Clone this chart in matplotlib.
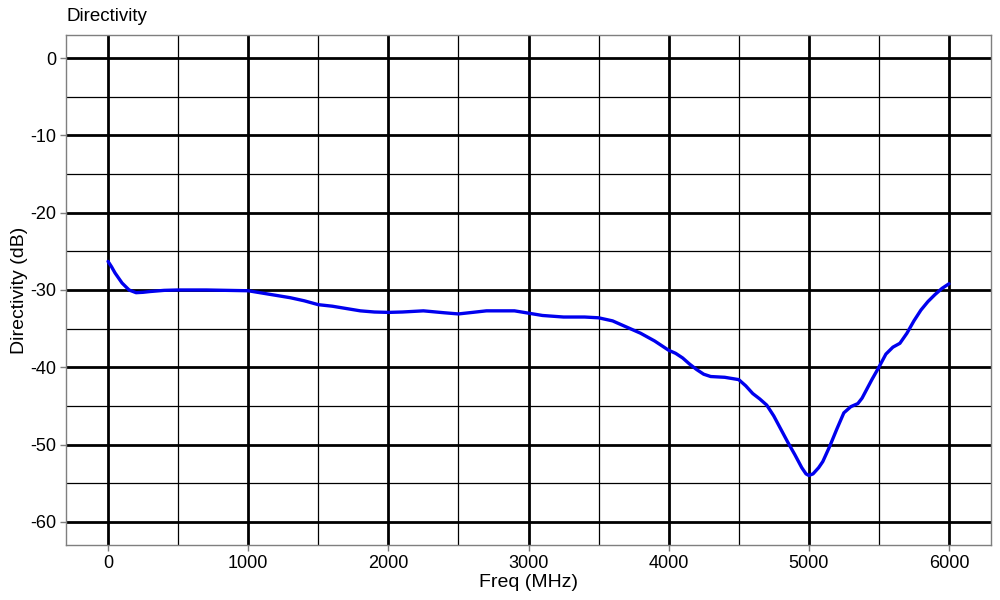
import matplotlib
matplotlib.use("Agg")
import matplotlib.pyplot as plt
from matplotlib.ticker import MultipleLocator

freq_mhz = [0, 25, 50, 100, 150, 200, 250, 300, 400, 500, 700, 1000, 1100,
            1200, 1300, 1400, 1500, 1600, 1700, 1800, 1900, 2000, 2100, 2250,
            2400, 2500, 2600, 2700, 2900, 3000, 3100, 3250, 3400, 3500, 3600,
            3700, 3800, 3900, 4000, 4050, 4100, 4150, 4200, 4250, 4300, 4400,
            4500, 4550, 4600, 4650, 4700, 4750, 4800, 4850, 4900, 4950, 4980,
            5000, 5030, 5070, 5100, 5150, 5200, 5250, 5300, 5350, 5380, 5450,
            5500, 5550, 5600, 5650, 5700, 5750, 5800, 5850, 5900, 5950, 6000]
directivity_db = [-26.3, -27.0, -27.8, -29.1, -30.0, -30.35, -30.3, -30.2,
                  -30.05, -30.0, -30.0, -30.1, -30.4, -30.7, -31.0, -31.4,
                  -31.9, -32.1, -32.4, -32.7, -32.85, -32.9, -32.85, -32.7,
                  -32.95, -33.1, -32.9, -32.7, -32.7, -33.0, -33.3, -33.5,
                  -33.5, -33.6, -34.0, -34.8, -35.6, -36.6, -37.8, -38.2,
                  -38.8, -39.6, -40.3, -40.9, -41.2, -41.3, -41.6, -42.4,
                  -43.4, -44.1, -44.9, -46.3, -48.0, -49.7, -51.3, -53.0,
                  -53.8, -54.0, -53.8, -53.0, -52.2, -50.2, -48.0, -45.9,
                  -45.1, -44.7, -44.0, -41.6, -40.0, -38.3, -37.4, -36.9,
                  -35.6, -34.0, -32.6, -31.5, -30.6, -29.8, -29.2]

x_ticks = [0, 1000, 2000, 3000, 4000, 5000, 6000]
y_ticks = [0, -10, -20, -30, -40, -50, -60]

plt.rcParams['font.family'] = ['Liberation Sans', 'DejaVu Sans']
plt.rcParams['axes.unicode_minus'] = False

fig = plt.figure(figsize=(10, 6), dpi=100)
ax = fig.add_axes([0.066, 0.0917, 0.925, 0.85])

ax.plot(freq_mhz, directivity_db, color='#0000ee', linewidth=2.4, zorder=3,
        solid_joinstyle='round', solid_capstyle='round')

ax.set_xlim(-300, 6300)
ax.set_ylim(-63, 3)
ax.set_xticks(x_ticks)
ax.set_yticks(y_ticks)
ax.xaxis.set_minor_locator(MultipleLocator(500))
ax.yaxis.set_minor_locator(MultipleLocator(5))
ax.grid(which='major', color='black', linewidth=2.0, zorder=1)
ax.grid(which='minor', color='black', linewidth=0.9, zorder=1)
ax.set_axisbelow(True)

for s in ax.spines.values():
    s.set_color('#7f7f7f')
    s.set_linewidth(1.0)

ax.tick_params(which='major', length=4, width=1, color='#7f7f7f',
               labelsize=13, labelcolor='black', pad=3)
ax.tick_params(which='minor', length=0)

ax.set_xlabel('Freq (MHz)', fontsize=14, labelpad=2)
ax.set_ylabel('Directivity (dB)', fontsize=14, labelpad=1.5)
fig.text(0.066, 0.972, 'Directivity', fontsize=13.5, ha='left', va='center')

fig.savefig('out.png', dpi=100, facecolor='white')
